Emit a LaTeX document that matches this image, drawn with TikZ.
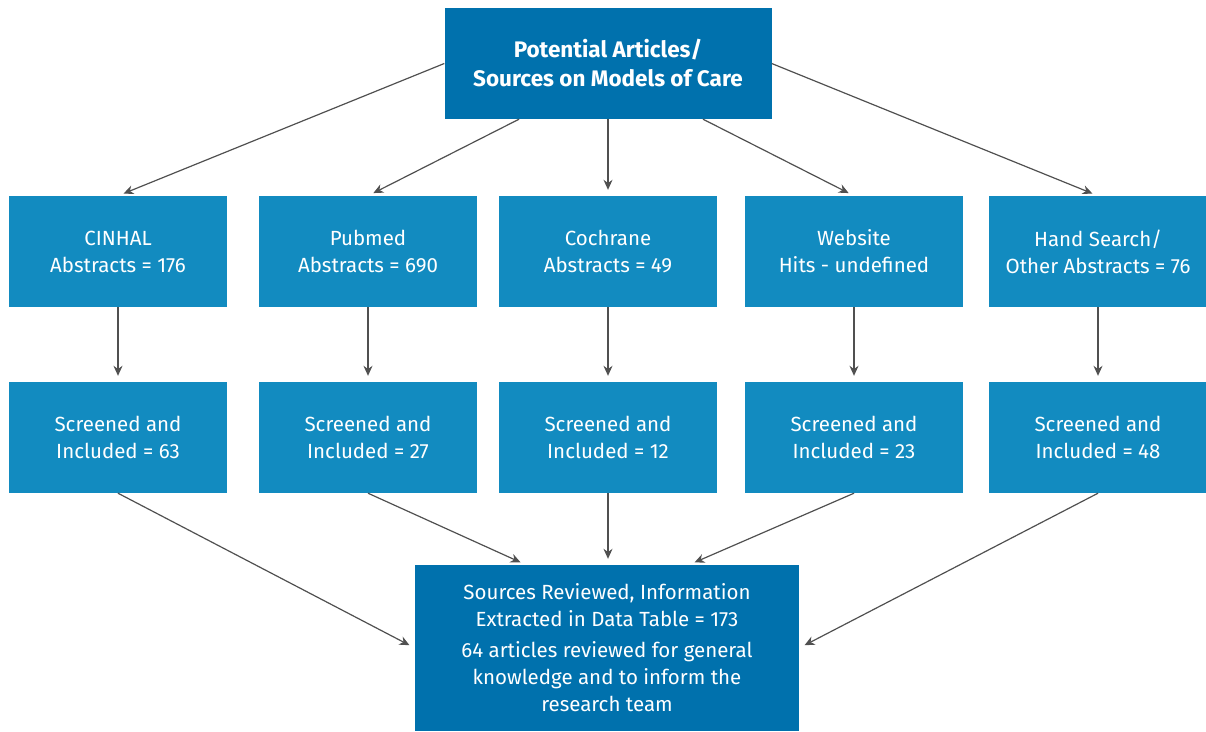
\documentclass[tikz,border=0pt]{standalone}
\usepackage{fontspec}
\setmainfont{Fira Sans}
\usetikzlibrary{arrows.meta}
\definecolor{darkbox}{HTML}{0071AD}
\definecolor{lightbox}{HTML}{128BC0}
\definecolor{arrowgray}{HTML}{505050}
\begin{document}
\begin{tikzpicture}[x=1pt,y=-1pt,
    every node/.style={align=center,text=white,inner sep=0pt,font=\fontsize{20.5}{27}\selectfont},
    mainbox/.style={fill=darkbox,minimum width=327pt,minimum height=111pt},
    srcbox/.style={fill=lightbox,minimum width=218pt,minimum height=111pt},
    endbox/.style={fill=darkbox,minimum width=384pt,minimum height=166pt},
    link/.style={draw=arrowgray,line width=1.2pt,-{Stealth[length=10pt,width=9pt]},shorten >=6pt}]
  \useasboundingbox (0,0) rectangle (1206,731);

  \node[mainbox,font=\bfseries\fontsize{22.5}{29}\selectfont] (top) at (608,63.5) {Potential Articles/\\Sources on Models of Care};

  % databases
  \node[srcbox] (cinhal) at (118,251.5) {CINHAL\\Abstracts = 176};
  \node[srcbox] (pubmed) at (368,251.5) {Pubmed\\Abstracts = 690};
  \node[srcbox] (cochrane) at (608,251.5) {Cochrane\\Abstracts = 49};
  \node[srcbox] (website) at (854,251.5) {Website\\Hits - undefined};
  \node[srcbox] (hand) at (1098,251.5) {Hand Search/\\Other Abstracts = 76};

  % screening
  \node[srcbox] (scrcinhal) at (118,437.5) {Screened and\\Included = 63};
  \node[srcbox] (scrpubmed) at (368,437.5) {Screened and\\Included = 27};
  \node[srcbox] (scrcochrane) at (608,437.5) {Screened and\\Included = 12};
  \node[srcbox] (scrwebsite) at (854,437.5) {Screened and\\Included = 23};
  \node[srcbox] (scrhand) at (1098,437.5) {Screened and\\Included = 48};

  \node[endbox] (review) at (607,648) {Sources Reviewed, Information\\Extracted in Data Table = 173\\[4pt]64 articles reviewed for general\\knowledge and to inform the\\research team};

  \draw[link] (top.west) -- (cinhal.north);
  \draw[link] ([xshift=-89pt]top.south) -- (pubmed.north);
  \draw[link] (top.south) -- (cochrane.north);
  \draw[link] ([xshift=95pt]top.south) -- (website.north);
  \draw[link] (top.east) -- (hand.north);

  \foreach \s in {cinhal,pubmed,cochrane,website,hand}
    \draw[link] (\s.south) -- (scr\s.north);

  \draw[link] (scrcinhal.south) -- (review.west);
  \draw[link] (scrpubmed.south) -- ([xshift=-81pt]review.north);
  \draw[link] (scrcochrane.south) -- ([xshift=1pt]review.north);
  \draw[link] (scrwebsite.south) -- ([xshift=82pt]review.north);
  \draw[link] (scrhand.south) -- (review.east);
\end{tikzpicture}
\end{document}
